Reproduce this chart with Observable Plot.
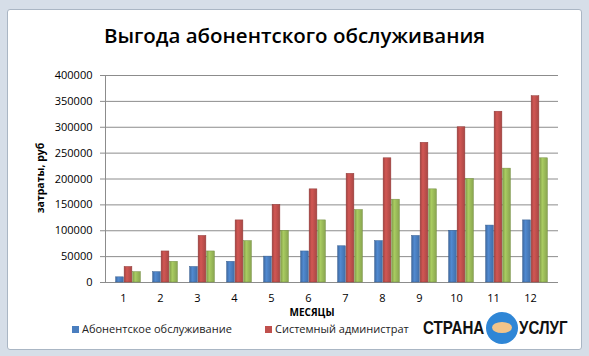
<!DOCTYPE html>
<html>
<head>
<meta charset="utf-8">
<script src="https://cdn.jsdelivr.net/npm/d3@7"></script>
<script src="https://cdn.jsdelivr.net/npm/@observablehq/plot@0.6"></script>
<style>
  html, body { margin: 0; padding: 0; }
  body { width: 589px; height: 356px; background: #d6dee8; position: relative; overflow: hidden; font-family: "Open Sans", sans-serif; }
  #card { position: absolute; left: 7px; top: 9px; width: 573px; height: 339px; background: #fff; border: 1px solid #aab6c4; border-radius: 3px; }
  .abs { position: absolute; white-space: nowrap; }
  #title { left: 0; width: 589px; top: 21px; text-align: center; font-weight: 600; font-size: 20.5px; color: #000; }
  #ylab { left: 40px; top: 178px; transform: translate(-50%, -50%) rotate(-90deg); font-weight: bold; font-size: 10.5px; color: #000; }
  #xlab { left: 312px; top: 312px; transform: translate(-50%, -50%); font-weight: bold; font-size: 10px; color: #000; }
  #chart { left: 0; top: 62px; }
  .leg { top: 321px; font-size: 11px; color: #222; }
  .sw { display: inline-block; width: 7px; height: 7px; margin-right: 3px; vertical-align: 0px; }
  #wmc { left: 486px; top: 312px; width: 32px; height: 32px; border-radius: 50%; background: #2f86d6; }
  #wmh { left: 492px; top: 322px; width: 20px; height: 11px; border-radius: 50%; background: #f2c48a; }
  .wm { top: 318px; font-weight: bold; font-size: 18px; color: #111; font-family: "Liberation Sans", sans-serif; transform: scaleX(0.84); transform-origin: 0 0; }
  #wm1 { left: 423px; }
  #wm2 { left: 519px; }
</style>
</head>
<body>
<div id="card"></div>
<div id="title" class="abs"></div>
<div id="ylab" class="abs"></div>
<div id="xlab" class="abs"></div>
<div id="chart" class="abs"></div>
<div id="legend"></div>
<div id="wmc" class="abs"></div>
<div id="wmh" class="abs"></div>
<div id="wm1" class="abs wm">СТРАНА</div>
<div id="wm2" class="abs wm">УСЛУГ</div>
<script>
const titleText = "Выгода абонентского обслуживания";
const yTitle = "затраты, руб";
const xTitle = "МЕСЯЦЫ";
const months = [1, 2, 3, 4, 5, 6, 7, 8, 9, 10, 11, 12];
const seriesNames = ["Абонентское обслуживание", "Системный администрат", "Штатный сотрудник"];
const seriesColors = ["#4a7ebf", "#c0504d", "#9bbb59"];
const abonent = [10000, 20000, 30000, 40000, 50000, 60000, 70000, 80000, 90000, 100000, 110000, 120000];
const sysadmin = [30000, 60000, 90000, 120000, 150000, 180000, 210000, 240000, 270000, 300000, 330000, 360000];
const staff = [20000, 40000, 60000, 80000, 100000, 120000, 140000, 160000, 180000, 200000, 220000, 240000];
const yTicks = [0, 50000, 100000, 150000, 200000, 250000, 300000, 350000, 400000];

document.getElementById("title").textContent = titleText;
document.getElementById("ylab").textContent = yTitle;
document.getElementById("xlab").textContent = xTitle;

const seriesValues = [abonent, sysadmin, staff];
const tables = seriesValues.map((vals, s) => months.map((m, i) => ({month: m, value: vals[i], series: seriesNames[s]})));

const offsets = [-8.5, 0, 8.5];
const barW = 7.5;
const step = 37.2;
const bw = step * 0.8;
const inset = (bw - barW) / 2;

const plot = Plot.plot({
  width: 589,
  height: 250,
  marginLeft: 105,
  marginRight: 31,
  marginTop: 13,
  marginBottom: 30,
  style: {fontFamily: "Open Sans, sans-serif", fontSize: "11px", color: "#000", background: "transparent"},
  x: {domain: months, type: "band", paddingInner: 0.2, paddingOuter: 0.19, align: 0.5, axis: null},
  y: {domain: [0, 400000], label: null},
  marks: [
    () => {
      const defs = d3.create("svg:defs");
      seriesColors.forEach((c, s) => {
        const g = defs.append("linearGradient").attr("id", "bargrad" + s).attr("x1", 0).attr("x2", 1).attr("y1", 0).attr("y2", 0);
        const base = d3.color(c);
        g.append("stop").attr("offset", "0%").attr("stop-color", base.darker(0.5).formatHex());
        g.append("stop").attr("offset", "35%").attr("stop-color", base.brighter(0.25).formatHex());
        g.append("stop").attr("offset", "100%").attr("stop-color", base.darker(0.35).formatHex());
      });
      return defs.node();
    },
    Plot.gridY(yTicks, {stroke: "#8c8c8c", strokeOpacity: 1}),
    Plot.ruleY([0], {stroke: "#8c8c8c"}),
    Plot.frame({anchor: "left", stroke: "#8c8c8c"}),
    ...tables.map((t, s) => Plot.barY(t, {
      x: "month", y: "value", fill: `url(#bargrad${s})`,
      stroke: d3.color(seriesColors[s]).darker(0.8).formatHex(), strokeWidth: 0.5,
      dx: offsets[s], insetLeft: inset, insetRight: inset
    })),
    Plot.axisX(months, {tickSize: 0, tickPadding: 12, dx: -5, fontSize: 11, label: null}),
    Plot.axisY(yTicks, {tickSize: 5, tickPadding: 8, tickFormat: d => String(d), label: null, stroke: "#8c8c8c", color: "#000"})
  ]
});
document.getElementById("chart").appendChild(plot);

const legend = document.getElementById("legend");
const legPos = [72, 265];
legPos.forEach((left, i) => {
  const d = document.createElement("div");
  d.className = "abs leg";
  d.style.left = left + "px";
  const sw = document.createElement("span");
  sw.className = "sw";
  sw.style.background = seriesColors[i];
  d.appendChild(sw);
  d.appendChild(document.createTextNode(seriesNames[i]));
  legend.appendChild(d);
});
</script>
</body>
</html>
